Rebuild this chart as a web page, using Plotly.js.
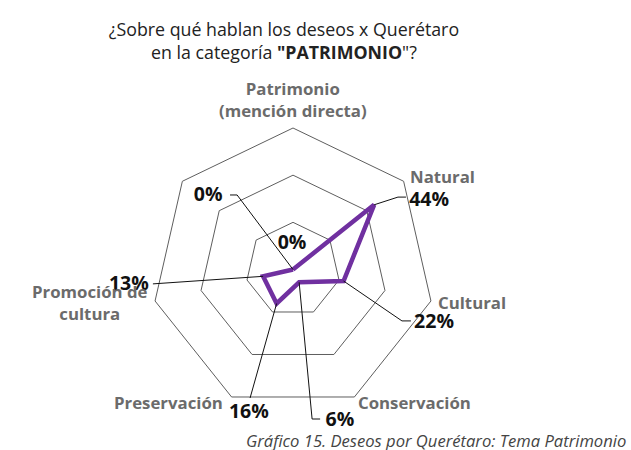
<!DOCTYPE html>
<html>
<head>
<meta charset="utf-8">
<script src="https://cdn.plot.ly/plotly-3.0.1.min.js"></script>
<style>html,body{margin:0;padding:0;background:#fff;}#chart{width:631px;height:450px;}</style>
</head>
<body>
<div id="chart"></div>
<script>
// ---- data ----
const categories = ['Patrimonio<br>(mención directa)', 'Natural', 'Cultural', 'Conservación', 'Preservación', 'Promoción de<br>cultura', ' '];
const values = [0, 44, 22, 6, 16, 13, 0];
const valueLabels = values.map(v => v + '%');

// ---- label layout (x right, y up, in radial units) ----
const valueLabelPos = [[-0.4, 10.8], [57.7, 29.0], [59.8, -22.7], [19.9, -64.5], [-18.7, -60.9], [-69.6, -6.6], [-36.0, 31.2]];
const leaderPaths = [[], [[44.5, 30.7], [47.9, 30.7]], [[46.2, -21.8], [50.0, -21.8]], [[8.1, -63.4], [11.5, -63.4]], [[-18.2, -54.5]], [[-59.4, -6.1]], [[-23.7, 31.6], [-26.7, 31.6]]];
const categoryLabelPos = [[0, 72.1], [63.2, 39.6], [75.9, -13.8], [51.5, -56.6], [-52.8, -56.6], [-86.1, -14.2], null];

// ---- geometry ----
const W = 631, H = 450, CX = 293, CY = 269.5, R1 = 141.5, RMAX = 60, RMAX2 = 75;
const R2 = R1 * RMAX2 / RMAX;
const cyB = H - CY;
const unitPx = R1 / RMAX;
const dom1 = {x: [(CX - R1) / W, (CX + R1) / W], y: [(cyB - R1) / H, (cyB + R1) / H]};
const dom2 = {x: [(CX - R2) / W, (CX + R2) / W], y: [(cyB - R2) / H, (cyB + R2) / H]};
const n = categories.length;
const angleOf = i => i * 360 / n;
const toPolar = ([x, y]) => ({r: Math.sqrt(x * x + y * y), t: Math.atan2(x, y) * 180 / Math.PI});
const FONT = '"Open Sans", sans-serif';

const traces = [];
// radar line
traces.push({
  type: 'scatterpolar', subplot: 'polar', mode: 'lines',
  r: values.concat([values[0]]), theta: categories.concat([categories[0]]),
  line: {color: '#7030A0', width: 4.5}, hoverinfo: 'skip', showlegend: false
});
// leader lines
leaderPaths.forEach((path, i) => {
  if (!path.length) return;
  const pts = path.map(toPolar);
  traces.push({
    type: 'scatterpolar', subplot: 'polar2', mode: 'lines', cliponaxis: false,
    r: [values[i]].concat(pts.map(p => p.r)),
    theta: [angleOf(i)].concat(pts.map(p => p.t)),
    line: {color: '#111', width: 1}, hoverinfo: 'skip', showlegend: false
  });
});
// value labels
traces.push({
  type: 'scatterpolar', subplot: 'polar2', mode: 'text', cliponaxis: false,
  r: valueLabelPos.map(p => toPolar(p).r),
  theta: valueLabelPos.map(p => toPolar(p).t),
  text: valueLabels.map(t => '<b>' + t + '</b>'),
  textposition: 'middle center',
  textfont: {family: FONT, size: 19.5, color: '#111'},
  hoverinfo: 'skip', showlegend: false
});

// category labels (angular axis labels placed around the chart)
const catAnnotations = categories.map((c, i) => {
  const p = categoryLabelPos[i];
  if (!p) return null;
  return {
    text: '<b>' + c + '</b>', xref: 'paper', yref: 'paper',
    x: (CX + p[0] * unitPx) / W, y: (cyB + p[1] * unitPx) / H,
    xanchor: 'center', yanchor: 'middle', align: 'center', showarrow: false,
    font: {family: FONT, size: 16.8, color: '#6b6b6b'}
  };
}).filter(a => a);

const layout = {
  width: W, height: H,
  margin: {l: 0, r: 0, t: 0, b: 0, autoexpand: false},
  paper_bgcolor: '#fff',
  showlegend: false,
  title: {
    text: '¿Sobre qué hablan los deseos x Querétaro<br>en la categoría <b>"PATRIMONIO</b>"?',
    x: 0.45, xanchor: 'center', y: 1 - 36 / H, yanchor: 'middle',
    font: {family: FONT, size: 17.8, color: '#222'}
  },
  polar: {
    domain: dom1, bgcolor: '#fff', gridshape: 'linear',
    radialaxis: {range: [0, RMAX], tickmode: 'linear', tick0: 0, dtick: 20, showticklabels: false, ticks: '', showline: false, gridcolor: '#5e5e5e', gridwidth: 1},
    angularaxis: {type: 'category', categoryarray: categories, direction: 'clockwise', rotation: 90, showgrid: false, showticklabels: false, ticks: '', showline: true, linecolor: '#5e5e5e', linewidth: 1}
  },
  polar2: {
    domain: dom2, bgcolor: 'rgba(0,0,0,0)',
    radialaxis: {range: [0, RMAX2], visible: false},
    angularaxis: {type: 'linear', thetaunit: 'degrees', direction: 'clockwise', rotation: 90, visible: false}
  },
  annotations: catAnnotations.concat([{
    text: '<i>Gráfico 15. Deseos por Querétaro: Tema Patrimonio</i>',
    xref: 'paper', yref: 'paper', x: 628 / W, xanchor: 'right', y: (H - 440) / H, yanchor: 'middle',
    showarrow: false, font: {family: FONT, size: 16.6, color: '#444'}
  }])
};

Plotly.newPlot('chart', traces, layout, {displayModeBar: false, staticPlot: true});
</script>
</body>
</html>
